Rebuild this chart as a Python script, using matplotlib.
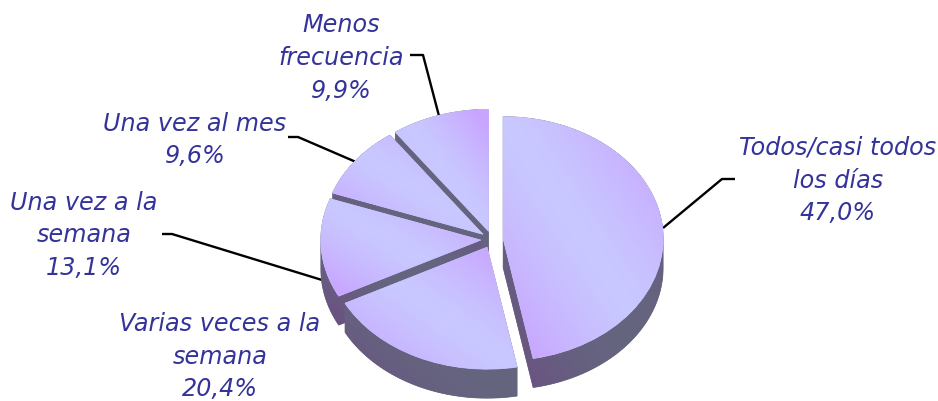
import numpy as np
import matplotlib
matplotlib.use("Agg")
import matplotlib.pyplot as plt
from matplotlib.patches import Polygon
from matplotlib.transforms import Affine2D

labels = ["Todos/casi todos\nlos días", "Varias veces a la\nsemana", "Una vez a la\nsemana",
          "Una vez al mes", "Menos\nfrecuencia"]
values = [47.0, 20.4, 13.1, 9.6, 9.9]

W, H = 938, 401
CX, CY, RX, RY, DEPTH = 492, 239.5, 160, 122, 29
TOP_A, TOP_B = np.array([200, 200, 255]), np.array([201, 165, 255])
SIDE_A, SIDE_B = np.array([101, 101, 127]), np.array([107, 80, 130])
TEXT = "#333399"

fig = plt.figure(figsize=(W / 100, H / 100), dpi=100, facecolor="white")
ax = fig.add_axes([0, 0, 1, 1])
wedges, _ = ax.pie(values, startangle=90, counterclock=False, explode=[0.07] * 5,
                   radius=1, center=(0, 0), frame=False)
ax.set_aspect("auto")
XLIM = (-CX / RX, (W - CX) / RX)
YLIM = ((CY - H) / RY, CY / RY)
pix = Affine2D().scale(1 / W, -1 / H).translate(0, 1) + fig.transFigure


def outline(w):
    th = np.radians(np.linspace(w.theta1, w.theta2, 200))
    arc = np.column_stack([w.center[0] + w.r * np.cos(th), w.center[1] + w.r * np.sin(th)])
    return np.vstack([[w.center], arc])


def hull(pts):
    pts = sorted(set(map(tuple, pts)))
    def half(seq):
        out = []
        for p in seq:
            while len(out) > 1 and ((out[-1][0] - out[-2][0]) * (p[1] - out[-2][1])
                                    - (out[-1][1] - out[-2][1]) * (p[0] - out[-2][0])) <= 0:
                out.pop()
            out.append(p)
        return out[:-1]
    return np.array(half(pts) + half(pts[::-1]))


def gradient(patch, pts, a, b, z, span, power):
    x0, y0 = pts.min(axis=0)
    x1, y1 = pts.max(axis=0)
    u, v = np.meshgrid(np.linspace(0, 1, 96), np.linspace(0, 1, 96))
    t = (np.clip(np.abs(u - v) / span, 0, 1) ** power)[..., None]
    img = (a + (b - a) * t) / 255
    im = ax.imshow(img, extent=(x0, x1, y0, y1), origin="upper", aspect="auto",
                   interpolation="bilinear", zorder=z)
    im.set_clip_path(patch)


draw_order = [4, 3, 2, 1, 0]
for rank, i in enumerate(draw_order):
    w = wedges[i]
    poly = outline(w)
    low = poly + np.array([0, -DEPTH / RY])
    shape = hull(np.vstack([poly, low]))
    side = Polygon(shape, closed=True, facecolor=tuple(SIDE_A / 255), edgecolor=tuple(SIDE_A / 255),
                   linewidth=0.5, zorder=10 + rank * 4)
    ax.add_patch(side)
    gradient(side, shape, SIDE_A, SIDE_B, 11 + rank * 4, 0.9, 2.0)
    w.set(facecolor=tuple(TOP_A / 255), edgecolor=tuple(TOP_A / 255), linewidth=0.5, zorder=12 + rank * 4)
    gradient(w, poly, TOP_A, TOP_B, 13 + rank * 4, 0.85, 1.4)

ax.set_xlim(*XLIM)
ax.set_ylim(*YLIM)
ax.axis("off")

label_pos = [(838, 180.5), (220, 356.5), (84, 235.5), (195, 140), (341, 58)]
leaders = [[(663, 228), (722, 179), (735, 179)], None,
           [(162, 234), (172, 234), (322, 280)],
           [(288, 137), (298, 137), (356, 162)],
           [(410, 55), (423, 55), (439, 116)]]
for lab, val, pos, lead in zip(labels, values, label_pos, leaders):
    txt = lab + "\n" + f"{val:.1f}".replace(".", ",") + "%"
    ax.text(pos[0], pos[1], txt, transform=pix, ha="center", va="center", ma="center",
            color=TEXT, fontsize=17.2, style="italic", family="DejaVu Sans", linespacing=1.47)
    if lead:
        xs, ys = zip(*lead)
        ax.plot(xs, ys, transform=pix, color="black", lw=1.7, zorder=2, solid_capstyle="butt")

fig.savefig("out.png", dpi=100, facecolor="white")
